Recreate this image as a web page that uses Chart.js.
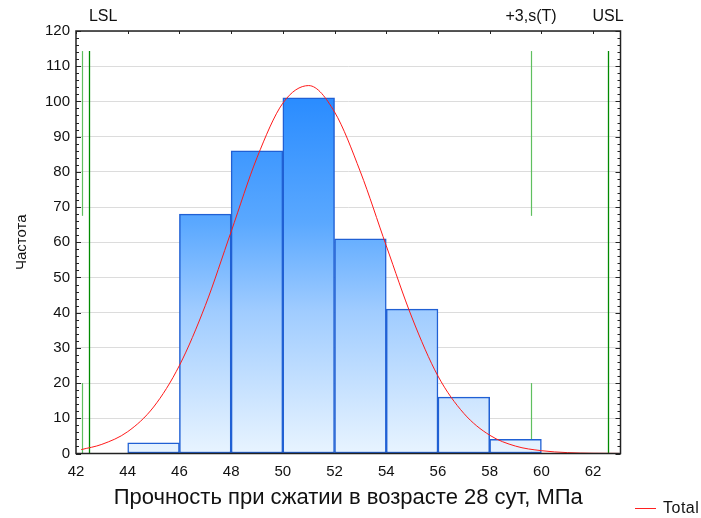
<!DOCTYPE html>
<html>
<head>
<meta charset="utf-8">
<script src="https://cdn.jsdelivr.net/npm/chart.js@4"></script>
<style>
  body { margin: 0; background: #fff; }
  #wrap { width: 701px; height: 518px; }
</style>
</head>
<body>
<div id="wrap"><canvas id="myChart" width="701" height="518"></canvas></div>
<script>
// histogram bins (centre of each 2 MPa bin) and counts
var binCenters = [45, 47, 49, 51, 53, 55, 57, 59]
var counts = [3, 68, 86, 101, 61, 41, 16, 4]

// fitted normal curve
var curveX = [42.2, 43, 44, 45, 46, 47, 48, 49, 50, 51, 52, 53, 54, 55, 56, 57, 58, 59, 60, 61, 62, 63]
var curveY = [1.1, 2.6, 6.2, 13.2, 25, 42, 63, 84, 99.5, 104.5, 97, 80, 59, 38.5, 22, 11.4, 5.2, 2.1, 0.8, 0.25, 0.07, 0.02]

// spec lines: LSL (two), +3s(T), USL
var lslLight = 42.22
var lslDark = 42.5
var plus3s = 59.6
var usl = 62.58

var xTicks = [42, 44, 46, 48, 50, 52, 54, 56, 58, 60, 62]

var FONT = '"Liberation Sans", Arial, sans-serif'

// vertical spec lines, drawn through the scales before the datasets
var specLines = {
    id: 'specLines',
    beforeDatasetsDraw(chart) {
        var c = chart.ctx
        var xs = chart.scales.x, ys = chart.scales.y
        var vline = function (x, from, to, color, w) {
            var px = Math.round(xs.getPixelForValue(x)) + 0.5
            c.strokeStyle = color
            c.lineWidth = w
            c.beginPath()
            c.moveTo(px, ys.getPixelForValue(from))
            c.lineTo(px, ys.getPixelForValue(to))
            c.stroke()
        }
        c.save()
        vline(lslLight, 0, 20, '#5fbf5f', 1.2)
        vline(lslLight, 67.5, 114.3, '#5fbf5f', 1.2)
        vline(plus3s, 0, 20, '#5fbf5f', 1.2)
        vline(plus3s, 67.5, 114.3, '#5fbf5f', 1.2)
        vline(lslDark, 0, 114.3, '#008a00', 1.3)
        vline(usl, 0, 114.3, '#008a00', 1.3)
        c.restore()
    }
}

var frame = {
    id: 'frame',
    afterDraw(chart) {
        var c = chart.ctx
        var a = chart.chartArea
        var xs = chart.scales.x, ys = chart.scales.y
        c.save()
        c.strokeStyle = '#222'
        c.lineWidth = 1
        // minor ticks on left and right axes
        for (var v = 0; v <= 120; v += 2) {
            var py = Math.round(ys.getPixelForValue(v)) + 0.5
            var len = v % 10 === 0 ? 5 : 3
            c.beginPath()
            c.moveTo(a.left, py); c.lineTo(a.left + len, py)
            c.moveTo(a.right, py); c.lineTo(a.right - len, py)
            c.stroke()
        }
        // ticks on top axis
        xTicks.forEach(function (t) {
            var px = Math.round(xs.getPixelForValue(t)) + 0.5
            c.beginPath()
            c.moveTo(px, a.top); c.lineTo(px, a.top + 3)
            c.stroke()
        })
        // frame
        c.lineWidth = 1.5
        c.strokeStyle = '#222'
        c.strokeRect(a.left, a.top, a.right - a.left, a.bottom - a.top)

        // spec labels
        c.fillStyle = '#111'
        c.font = '16px ' + FONT
        c.textBaseline = 'middle'
        c.textAlign = 'left'
        c.fillText('LSL', xs.getPixelForValue(lslDark), 17)
        c.textAlign = 'center'
        c.fillText('+3,s(T)', xs.getPixelForValue(plus3s), 17)
        c.fillText('USL', xs.getPixelForValue(usl), 17)

        // axis titles
        c.font = '22px ' + FONT
        c.fillText('Прочность при сжатии в возрасте 28 сут, МПа', (a.left + a.right) / 2, 498)
        c.save()
        c.translate(22, (a.top + a.bottom) / 2)
        c.rotate(-Math.PI / 2)
        c.font = '15px ' + FONT
        c.fillText('Частота', 0, 0)
        c.restore()

        // legend
        c.strokeStyle = '#ff2020'
        c.lineWidth = 1
        c.beginPath()
        c.moveTo(635, 508.5); c.lineTo(656, 508.5)
        c.stroke()
        c.textAlign = 'left'
        c.font = '16px ' + FONT
        c.letterSpacing = '0.5px'
        c.fillText('Total', 663, 509)
        c.restore()
    }
}

var canvas = document.getElementById("myChart")
var myChart = new Chart(canvas, {
    type: 'bar',
    data: {
        datasets: [{
            type: 'line',
            label: 'Total',
            data: curveX.map(function (x, i) { return {x: x, y: curveY[i]} }),
            borderColor: '#ff1a1a',
            borderWidth: 1,
            pointRadius: 0,
            cubicInterpolationMode: 'monotone',
            order: 0
        }, {
            type: 'bar',
            label: 'counts',
            data: binCenters.map(function (x, i) { return {x: x, y: counts[i]} }),
            backgroundColor: function (ctx) {
                var chart = ctx.chart
                if (!chart.chartArea) return '#7ab8ff'
                var ys = chart.scales.y
                var g = chart.ctx.createLinearGradient(0, ys.getPixelForValue(101), 0, ys.getPixelForValue(0))
                g.addColorStop(0, '#2a8cff')
                g.addColorStop(0.35, '#5aa8ff')
                g.addColorStop(0.6, '#a0ccff')
                g.addColorStop(1, '#e8f4ff')
                return g
            },
            borderColor: '#2060d4',
            borderWidth: 1.5,
            borderSkipped: false,
            barPercentage: 1,
            categoryPercentage: 1,
            order: 2
        }]
    },
    options: {
        responsive: false,
        animation: false,
        layout: { padding: { top: 31, right: 80.5, left: 0, bottom: 0 } },
        plugins: { legend: { display: false }, tooltip: { enabled: false } },
        scales: {
            x: {
                type: 'linear',
                min: 42,
                max: 63.06,
                offset: false,
                afterFit: function (s) { s.height = 64.5 },
                afterBuildTicks: function (s) {
                    s.ticks = xTicks.map(function (v) { return {value: v} })
                },
                grid: { display: false, drawTicks: false },
                border: { display: false },
                ticks: {
                    padding: 9,
                    maxRotation: 0,
                    color: '#111',
                    font: { size: 15, family: FONT }
                }
            },
            y: {
                min: 0,
                max: 120,
                afterFit: function (s) { s.width = 76 },
                grid: { color: '#dcdcdc', lineWidth: 1, drawTicks: false },
                border: { display: false },
                ticks: {
                    stepSize: 10,
                    padding: 6,
                    color: '#111',
                    font: { size: 15, family: FONT }
                }
            }
        }
    },
    plugins: [specLines, frame]
});
</script>
</body>
</html>
